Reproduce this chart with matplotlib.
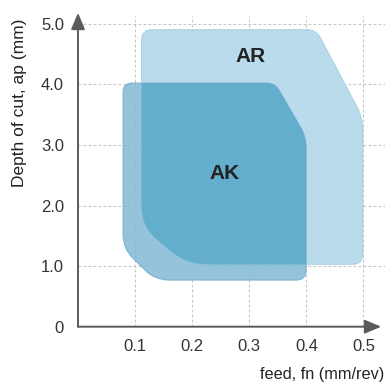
import numpy as np
import matplotlib
matplotlib.use("Agg")
import matplotlib.pyplot as plt
from matplotlib.path import Path
from matplotlib.patches import PathPatch

plt.rcParams['font.family'] = ['Liberation Sans', 'DejaVu Sans']

# working areas (feed mm/rev, depth of cut mm) - polygon corners
ar_feed = [0.1115, 0.417, 0.4985, 0.4985, 0.19, 0.1115]
ar_depth = [4.9, 4.9, 3.45, 1.03, 1.03, 1.65]
ak_feed = [0.079, 0.345, 0.3995, 0.3995, 0.135, 0.079]
ak_depth = [4.02, 4.02, 3.13, 0.77, 0.77, 1.29]

x_ticks = [0.1, 0.2, 0.3, 0.4, 0.5]
y_ticks = [0, 1.0, 2.0, 3.0, 4.0, 5.0]
y_tick_labels = ['0', '1.0', '2.0', '3.0', '4.0', '5.0']

# corner rounding in pixels (style)
ar_radii = [10, 9, 12, 10, 20, 20]
ak_radii = [9, 8, 11, 10, 14, 14]

W, H = 385, 383
X0, Y0 = 78, 326.7          # pixel position of the origin
SX, SY = 571.0, 60.6        # pixels per data unit
x_max = (W - X0) / SX
y_max = Y0 / SY


def rounded_path(xs, ys, radii):
    pts = np.column_stack([np.array(xs) * SX, np.array(ys) * SY])
    n = len(pts)
    verts, codes = [], []
    for i in range(n):
        p, prev, nxt = pts[i], pts[i - 1], pts[(i + 1) % n]
        d1 = (prev - p) / np.linalg.norm(prev - p)
        d2 = (nxt - p) / np.linalg.norm(nxt - p)
        a = p + d1 * radii[i]
        b = p + d2 * radii[i]
        verts.append(a)
        codes.append(Path.MOVETO if i == 0 else Path.LINETO)
        verts += [p, b]
        codes += [Path.CURVE3, Path.CURVE3]
    verts.append(verts[0])
    codes.append(Path.CLOSEPOLY)
    verts = np.array(verts) / np.array([SX, SY])
    return Path(verts, codes)


fig = plt.figure(figsize=(W / 100, H / 100), dpi=100)
ax = fig.add_axes([X0 / W, (H - Y0) / H, (W - X0) / W, Y0 / H])
ax.set_xlim(0, x_max)
ax.set_ylim(0, y_max)
for s in ax.spines.values():
    s.set_visible(False)

# grid
grid_kw = dict(colors='#c6c6c6', linewidth=0.8, linestyles=(0, (2.5, 2)), zorder=1)
ax.vlines(x_ticks, 0, 5.13, **grid_kw)
ax.hlines(y_ticks[1:], 0, x_max, **grid_kw)

# areas
ar_path = rounded_path(ar_feed, ar_depth, ar_radii)
ak_path = rounded_path(ak_feed, ak_depth, ak_radii)
ar = PathPatch(ar_path, facecolor='#b2d8ea', edgecolor='#a5cfe3', lw=0.8, alpha=0.9, zorder=2)
ax.add_patch(ar)
ak = PathPatch(ak_path, facecolor='#88bdd7', edgecolor='#78afca', lw=0.8, alpha=0.9, zorder=3)
ax.add_patch(ak)
both = PathPatch(ak_path, facecolor='#5fabcc', edgecolor='none', alpha=0.9, zorder=4)
ax.add_patch(both)
both.set_clip_path(ar)

ax.text(0.3025, 4.46, 'AR', fontsize=15, fontweight='bold', color='#222222',
        ha='center', va='center', zorder=5)
ax.text(0.257, 2.53, 'AK', fontsize=15, fontweight='bold', color='#222222',
        ha='center', va='center', zorder=5)

# axes with arrow heads
arrow_kw = dict(arrowstyle='-|>,head_length=1.0,head_width=0.42', color='#5a5a5a',
                lw=1.4, mutation_scale=10, shrinkA=0, shrinkB=0)
ax.annotate('', xy=(0.531, 0), xytext=(0, 0), arrowprops=arrow_kw, annotation_clip=False, zorder=6)
ax.annotate('', xy=(0, 5.18), xytext=(0, 0), arrowprops=arrow_kw, annotation_clip=False, zorder=6)

ax.set_xticks(x_ticks)
ax.set_xticklabels([f'{v:.1f}' for v in x_ticks])
ax.set_yticks(y_ticks)
ax.set_yticklabels(y_tick_labels)
ax.tick_params(length=0, labelsize=12, labelcolor='#333333')
ax.tick_params(axis='x', pad=9)
ax.tick_params(axis='y', pad=10)

fig.text(20 / W, 1 - 103 / H, 'Depth of cut, ap (mm)', rotation=90, fontsize=12.5,
         color='#222222', ha='center', va='center')
fig.text(384 / W, 1 - 375 / H, 'feed, fn (mm/rev)', fontsize=11.7,
         color='#222222', ha='right', va='center')

fig.savefig('out.png', dpi=100)
